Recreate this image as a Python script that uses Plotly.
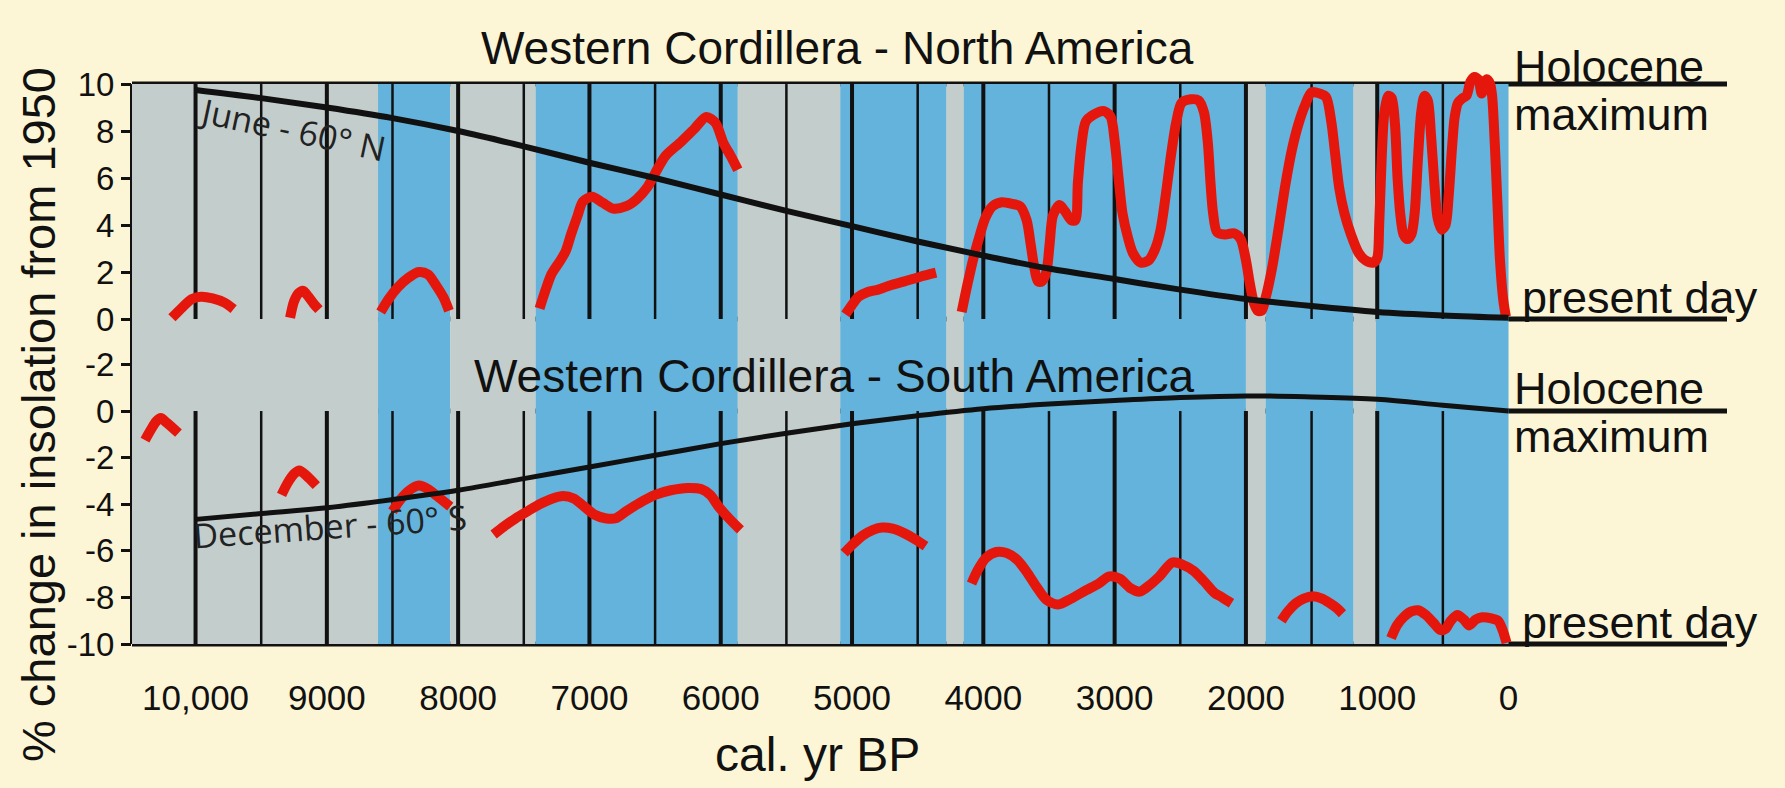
import plotly.graph_objects as go

# ---------------- data ----------------
tick_years = [10000, 9000, 8000, 7000, 6000, 5000, 4000, 3000, 2000, 1000, 0]
tick_labels = ["10,000", "9000", "8000", "7000", "6000", "5000", "4000", "3000", "2000", "1000", "0"]
grid_years = [10000, 9500, 9000, 8500, 8000, 7500, 7000, 6500, 6000, 5500, 5000,
              4500, 4000, 3500, 3000, 2500, 2000, 1500, 1000, 500]

band_edges = [10484, 8610, 8060, 7410, 5870, 5090, 4280, 4150, 2000, 1850, 1180, 1010, 0]
band_types = ["gray", "blue", "gray", "blue", "gray", "blue", "gray", "blue", "gray", "blue", "gray", "blue"]

top_ticks = [0, 2, 4, 6, 8, 10]
bottom_ticks = [-10, -8, -6, -4, -2, 0, 2]
bottom_tick_text = ["-10", "-8", "-6", "-4", "-2", "0", "-2"]

# insolation curves (% change from 1950)
ins_years = [10000, 9500, 9000, 8500, 8000, 7500, 7000, 6500, 6000, 5500, 5000,
             4500, 4000, 3500, 3000, 2500, 2000, 1500, 1000, 500, 0]
june_values = [9.75, 9.4, 9.0, 8.55, 8.0, 7.35, 6.65, 6.0, 5.3, 4.6, 3.95,
               3.3, 2.7, 2.15, 1.7, 1.25, 0.85, 0.55, 0.3, 0.15, 0.05]
dec_values = [-4.65, -4.4, -4.15, -3.8, -3.4, -2.9, -2.4, -1.9, -1.4, -0.95, -0.55,
              -0.2, 0.1, 0.3, 0.45, 0.58, 0.65, 0.6, 0.5, 0.25, 0.0]

# North America proxy record (segments)
na_years = [
    [10180, 10100, 10030, 9960, 9870, 9780, 9710],
    [9280, 9250, 9215, 9180, 9140, 9100, 9060],
    [8590, 8530, 8460, 8380, 8300, 8230, 8170, 8110, 8070],
    [7380, 7330, 7290, 7220, 7180, 7140, 7090, 7050, 6980, 6900, 6820, 6720, 6640, 6560,
     6480, 6420, 6300, 6200, 6110, 6040, 5980, 5920, 5870],
    [5050, 5000, 4950, 4880, 4800, 4700, 4600, 4480, 4360],
    [4165, 4120, 4075, 4030, 3985, 3930, 3860, 3780, 3720, 3670, 3640, 3615, 3585, 3555,
     3520, 3495, 3470, 3420, 3380, 3330, 3300, 3280, 3255, 3220, 3160, 3080, 3030, 3000,
     2970, 2940, 2900, 2860, 2800, 2740, 2690, 2650, 2610, 2570, 2530, 2490, 2420, 2360,
     2320, 2290, 2270, 2250, 2220, 2160, 2090, 2040, 2000, 1970, 1940, 1910, 1880, 1850,
     1800, 1750, 1700, 1650, 1600, 1550, 1500, 1440, 1390, 1350, 1320, 1290, 1250, 1200,
     1140, 1090, 1030, 1000, 985, 965, 945, 915, 890, 865, 845, 825, 800, 770, 740, 715,
     690, 665, 640, 615, 590, 565, 540, 510, 480, 455, 430, 410, 385, 350, 320, 290, 260,
     230, 205, 185, 165, 140, 125, 105, 85, 65, 40, 20],
]
na_values = [
    [0.05, 0.5, 0.85, 0.95, 0.88, 0.7, 0.42],
    [0.05, 0.75, 1.1, 1.2, 0.95, 0.65, 0.4],
    [0.3, 0.85, 1.35, 1.75, 2.0, 1.9, 1.45, 0.9, 0.35],
    [0.45, 1.3, 1.9, 2.5, 2.9, 3.6, 4.4, 5.0, 5.2, 4.95, 4.7, 4.8, 5.1, 5.6,
     6.4, 6.95, 7.55, 8.1, 8.6, 8.35, 7.5, 6.9, 6.35],
    [0.2, 0.6, 0.95, 1.15, 1.25, 1.45, 1.6, 1.8, 1.97],
    [0.3, 1.5, 2.6, 3.5, 4.3, 4.8, 4.97, 4.9, 4.8, 4.2, 3.2, 2.3, 1.6, 1.6,
     2.0, 3.2, 4.4, 4.85, 4.6, 4.2, 4.2, 5.8, 7.3, 8.4, 8.7, 8.85, 8.6, 7.6,
     6.0, 4.5, 3.5, 2.8, 2.4, 2.5, 3.0, 3.8, 5.3, 7.0, 8.4, 9.2, 9.35, 9.3,
     8.8, 7.5, 5.8, 4.5, 3.7, 3.6, 3.65, 3.4, 2.5, 1.5, 0.7, 0.35, 0.35, 0.9,
     2.2, 3.9, 5.7, 7.2, 8.3, 9.1, 9.65, 9.6, 9.45, 8.4, 7.0, 5.6, 4.5, 3.6,
     2.8, 2.5, 2.4, 2.6, 4.0, 7.0, 8.8, 9.5, 9.4, 8.3, 6.0, 4.5, 3.6, 3.4, 3.6, 4.5,
     6.8, 8.8, 9.5, 9.3, 7.8, 5.8, 4.3, 3.8, 4.0, 5.3, 7.3, 8.6, 9.2, 9.4, 9.5, 10.1, 10.3,
     10.2, 9.6, 9.9, 10.2, 10.0, 9.5, 7.5, 5.0, 2.5, 0.8, 0.1],
]

# South America proxy record (segments)
sa_years = [
    [10385, 10340, 10300, 10265, 10220, 10130],
    [9345, 9300, 9250, 9210, 9160, 9080],
    [8500, 8440, 8370, 8300, 8230, 8160, 8060],
    [7730, 7650, 7560, 7470, 7380, 7280, 7200, 7120, 7040, 6960, 6880, 6800, 6720, 6620,
     6500, 6380, 6250, 6150, 6080, 6010, 5930, 5850],
    [5060, 5000, 4920, 4840, 4770, 4690, 4600, 4520, 4440],
    [4090, 4040, 3980, 3900, 3820, 3740, 3670, 3600, 3520, 3430, 3330, 3220, 3120, 3040,
     2960, 2880, 2810, 2740, 2660, 2560, 2480, 2400, 2320, 2240, 2180, 2110],
    [1730, 1680, 1620, 1560, 1490, 1420, 1360, 1310, 1265],
    [895, 850, 800, 740, 690, 630, 570, 520, 480, 440, 390, 340, 300, 250, 200, 130, 80, 45, 15],
]
sa_values = [
    [-1.25, -0.8, -0.45, -0.3, -0.5, -0.95],
    [-3.6, -3.1, -2.7, -2.55, -2.75, -3.2],
    [-4.3, -3.8, -3.4, -3.2, -3.35, -3.65, -4.1],
    [-5.3, -4.95, -4.6, -4.3, -4.0, -3.75, -3.65, -3.75, -4.1, -4.45, -4.6, -4.6, -4.3, -3.95,
     -3.6, -3.4, -3.3, -3.35, -3.6, -4.15, -4.65, -5.1],
    [-6.1, -5.75, -5.35, -5.1, -5.0, -5.05, -5.25, -5.5, -5.8],
    [-7.4, -6.8, -6.3, -6.05, -6.1, -6.4, -6.9, -7.5, -8.1, -8.3, -8.05, -7.7, -7.4, -7.1,
     -7.2, -7.6, -7.75, -7.5, -7.1, -6.5, -6.6, -6.85, -7.3, -7.8, -8.0, -8.25],
    [-9.0, -8.6, -8.25, -8.05, -7.95, -8.05, -8.25, -8.45, -8.7],
    [-9.75, -9.2, -8.85, -8.6, -8.55, -8.75, -9.1, -9.4, -9.35, -9.0, -8.75, -8.95, -9.2,
     -8.95, -8.85, -8.9, -9.0, -9.4, -9.95],
]

# ---------------- style / geometry ----------------
W, H = 1785, 788
PL, PR, PT, PB = 132, 1727, 65, 648
X_RANGE = [10484, -1664]
Y1_RANGE = [-14.0, 10.81]
Y2_RANGE = [-10.17, 14.85]
GAP = 3.95  # top-panel baseline expressed in bottom-panel units

BG = "#FDF6D6"
GRAY = "#C3CDCC"
BLUE = "#63B3DC"
RED = "#E5170D"
INK = "#111111"
SANS = "Liberation Sans, Arial, Helvetica, sans-serif"
HUM = "Open Sans, Noto Sans, sans-serif"


def px(xp):
    return (xp - PL) / (PR - PL)


def py(yp):
    return 1 - (yp - PT) / (PB - PT)


def joined(seg_x, seg_y):
    xs, ys = [], []
    for sx, sy in zip(seg_x, seg_y):
        xs += list(sx) + [None]
        ys += list(sy) + [None]
    return xs, ys


fig = go.Figure()

nx, ny = joined(na_years, na_values)
sx, sy = joined(sa_years, sa_values)
fig.add_trace(go.Scatter(x=nx, y=ny, mode="lines", yaxis="y",
                         line=dict(color=RED, width=10, shape="spline", smoothing=0.8),
                         connectgaps=False, hoverinfo="skip"))
fig.add_trace(go.Scatter(x=sx, y=sy, mode="lines", yaxis="y2",
                         line=dict(color=RED, width=10, shape="spline", smoothing=0.8),
                         connectgaps=False, hoverinfo="skip"))
fig.add_trace(go.Scatter(x=ins_years, y=june_values, mode="lines", yaxis="y",
                         line=dict(color=INK, width=6, shape="spline"), hoverinfo="skip"))
fig.add_trace(go.Scatter(x=ins_years, y=dec_values, mode="lines", yaxis="y2",
                         line=dict(color=INK, width=5, shape="spline"), hoverinfo="skip"))

shapes = []
for i, kind in enumerate(band_types):
    col = GRAY if kind == "gray" else BLUE
    x0, x1 = band_edges[i], band_edges[i + 1]
    shapes.append(dict(type="rect", xref="x", yref="y", x0=x0, x1=x1, y0=0, y1=10,
                       fillcolor=col, line=dict(width=0), layer="below"))
    shapes.append(dict(type="rect", xref="x", yref="y2", x0=x0, x1=x1, y0=-10, y1=GAP,
                       fillcolor=col, line=dict(width=0), layer="below"))
for yr in grid_years:
    w = 4 if yr % 1000 == 0 else 2.5
    shapes.append(dict(type="line", xref="x", yref="y", x0=yr, x1=yr, y0=0, y1=10,
                       line=dict(color=INK, width=w), layer="below"))
    shapes.append(dict(type="line", xref="x", yref="y2", x0=yr, x1=yr, y0=-10, y1=0,
                       line=dict(color=INK, width=w), layer="below"))
for ref, val in [("y", 10), ("y", 0), ("y2", 0), ("y2", -10)]:
    shapes.append(dict(type="line", xref="x domain", yref=ref, x0=0, x1=1, y0=val, y1=val,
                       line=dict(color=INK, width=5), layer="below"))
shapes.append(dict(type="line", xref="x domain", yref="y", x0=0, x1=0, y0=0, y1=10,
                   line=dict(color=INK, width=4), layer="below"))
shapes.append(dict(type="line", xref="x domain", yref="y2", x0=0, x1=0, y0=-10, y1=GAP,
                   line=dict(color=INK, width=4), layer="below"))

annotations = [
    dict(text="Western Cordillera - North America", x=px(837), y=py(48),
         font=dict(family=SANS, size=46, color=INK)),
    dict(text="Western Cordillera - South America", x=px(834), y=py(376),
         font=dict(family=SANS, size=46, color=INK)),
    dict(text="Holocene", x=px(1512), y=py(66), xanchor="left",
         font=dict(family=SANS, size=45, color=INK)),
    dict(text="maximum", x=px(1512), y=py(114), xanchor="left",
         font=dict(family=SANS, size=45, color=INK)),
    dict(text="present day", x=px(1520), y=py(297), xanchor="left",
         font=dict(family=SANS, size=45, color=INK)),
    dict(text="Holocene", x=px(1512), y=py(388), xanchor="left",
         font=dict(family=SANS, size=45, color=INK)),
    dict(text="maximum", x=px(1512), y=py(436), xanchor="left",
         font=dict(family=SANS, size=45, color=INK)),
    dict(text="present day", x=px(1520), y=py(622), xanchor="left",
         font=dict(family=SANS, size=45, color=INK)),
    dict(text="June - 60° N", x=px(292), y=py(129), textangle=12,
         font=dict(family=HUM, size=34, color="#222222")),
    dict(text="December - 60° S", x=px(330), y=py(526), textangle=-4,
         font=dict(family=HUM, size=34, color="#222222")),
    dict(text="% change in insolation from 1950", x=px(38), y=py(415), textangle=-90,
         font=dict(family=SANS, size=47, color=INK)),
    dict(text="cal. yr BP", x=px(817), y=py(754),
         font=dict(family=SANS, size=48, color=INK)),
]
for a in annotations:
    a.update(xref="paper", yref="paper", showarrow=False)
    a.setdefault("xanchor", "center")
    a.setdefault("yanchor", "middle")

fig.update_layout(
    width=W, height=H,
    margin=dict(l=PL, r=W - PR, t=PT, b=H - PB),
    paper_bgcolor=BG, plot_bgcolor="rgba(0,0,0,0)",
    showlegend=False,
    shapes=shapes, annotations=annotations,
    xaxis=dict(range=X_RANGE, tickvals=tick_years, ticktext=tick_labels,
               showgrid=False, zeroline=False, showline=False, ticks="",
               ticklabelstandoff=26, fixedrange=True,
               tickfont=dict(family=SANS, size=35, color=INK)),
    yaxis=dict(range=Y1_RANGE, tickvals=top_ticks, showgrid=False, zeroline=False,
               showline=False, ticks="outside", ticklen=10, tickwidth=3, tickcolor=INK,
               fixedrange=True,
               tickfont=dict(family=SANS, size=33, color=INK)),
    yaxis2=dict(range=Y2_RANGE, tickvals=bottom_ticks, ticktext=bottom_tick_text,
                overlaying="y", side="left", showgrid=False, zeroline=False,
                showline=False, ticks="outside", ticklen=10, tickwidth=3, tickcolor=INK,
                fixedrange=True,
                tickfont=dict(family=SANS, size=33, color=INK)),
)

fig.write_html(
    "out.html",
    config={"displayModeBar": False},
    post_script=("document.body.style.margin='0';"
                 "document.body.style.background='" + BG + "';"
                 "document.documentElement.style.background='" + BG + "';"),
)
